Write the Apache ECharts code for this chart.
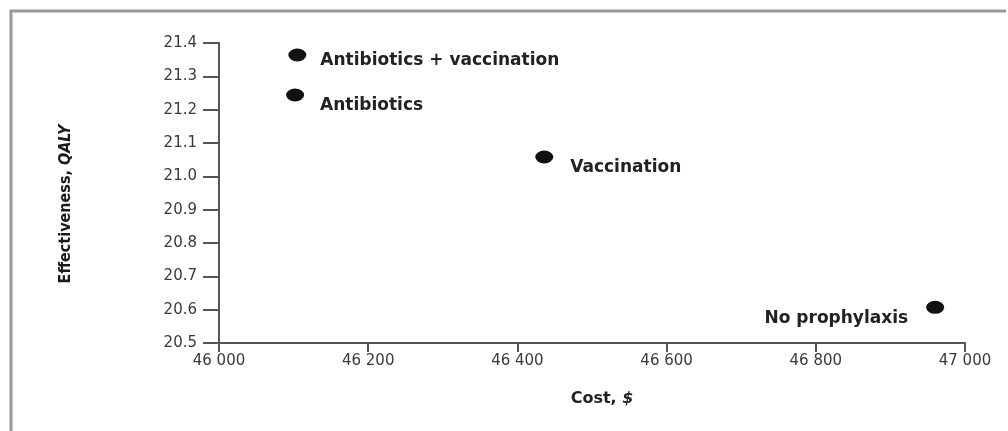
<!DOCTYPE html>
<html>
<head>
<meta charset="utf-8">
<title>Cost-effectiveness</title>
<script src="https://cdn.jsdelivr.net/npm/echarts@6/dist/echarts.min.js"></script>
<style>
  html, body { margin: 0; padding: 0; background: #fff; }
  #main { width: 1008px; height: 431px; }
</style>
</head>
<body>
<div id="main"></div>
<script>
// strategies, cost ($) and effectiveness (QALY)
var strategies = ['Antibiotics + vaccination', 'Antibiotics', 'Vaccination', 'No prophylaxis'];
var costs = [46105, 46102, 46436, 46960];
var qalys = [21.364, 21.244, 21.058, 20.607];

var xTicks = { min: 46000, max: 47000, step: 200 };
var yTicks = { min: 20.5, max: 21.4, step: 0.1 };

// label placement per point (right of the dot, or left for the last one)
var labelPos = ['right', 'right', 'right', 'left'];
var labelOff = [[9, 6], [11, 11], [12, 11], [-13, 11]];

var pts = strategies.map(function (s, i) {
  return {
    name: s,
    value: [costs[i], qalys[i]],
    label: { position: labelPos[i], offset: labelOff[i] }
  };
});

var tickFont = { fontFamily: 'DejaVu Sans', fontSize: 15, color: '#3a3a3a' };
var narrow = "'DejaVu Sans Condensed', 'Liberation Sans', sans-serif";

var chart = echarts.init(document.getElementById('main'));
chart.setOption({
  animation: false,
  grid: { left: 219, right: 43, top: 43, bottom: 88 },
  graphic: [
    { type: 'polyline', shape: { points: [[11, 431], [11, 11], [1006, 11]] },
      style: { stroke: '#999', lineWidth: 3, fill: null } }
  ],
  xAxis: {
    type: 'value',
    min: xTicks.min, max: xTicks.max, interval: xTicks.step,
    splitLine: { show: false },
    axisLine: { lineStyle: { color: '#555', width: 2 } },
    axisTick: { length: 9, lineStyle: { color: '#555', width: 2 } },
    axisLabel: Object.assign({
      margin: 11,
      formatter: function (v) { return String(v).slice(0, 2) + ' ' + String(v).slice(2); }
    }, tickFont),
    name: '{a|Cost, }{b|$}',
    nameLocation: 'middle',
    nameGap: 48,
    nameTextStyle: {
      padding: [0, 0, 0, 20],
      rich: {
        a: { fontFamily: 'DejaVu Sans', fontSize: 16, fontWeight: 'bold', color: '#222' },
        b: { fontFamily: 'DejaVu Sans', fontSize: 16, fontWeight: 'bold', fontStyle: 'italic', color: '#222' }
      }
    }
  },
  yAxis: {
    type: 'value',
    min: yTicks.min, max: yTicks.max, interval: yTicks.step,
    splitLine: { show: false },
    axisLine: { show: true, lineStyle: { color: '#555', width: 2 } },
    axisTick: { show: true, length: 16, lineStyle: { color: '#555', width: 2 } },
    axisLabel: Object.assign({
      margin: 22,
      formatter: function (v) { return v.toFixed(1); }
    }, tickFont),
    name: '{a|Effectiveness, }{b|QALY}',
    nameLocation: 'middle',
    nameRotate: 90,
    nameGap: 145,
    nameTextStyle: {
      padding: [0, 22, 0, 0],
      rich: {
        a: { fontFamily: narrow, fontSize: 16, fontWeight: 'bold', color: '#1a1a1a' },
        b: { fontFamily: narrow, fontSize: 16, fontWeight: 'bold', fontStyle: 'italic', color: '#1a1a1a' }
      }
    }
  },
  series: [{
    type: 'scatter',
    symbol: 'circle',
    symbolSize: [18, 13],
    itemStyle: { color: '#111', opacity: 1 },
    label: {
      show: true,
      formatter: '{b}',
      fontFamily: 'DejaVu Sans',
      fontSize: 17,
      fontWeight: 'bold',
      color: '#222'
    },
    data: pts
  }]
});
</script>
</body>
</html>
